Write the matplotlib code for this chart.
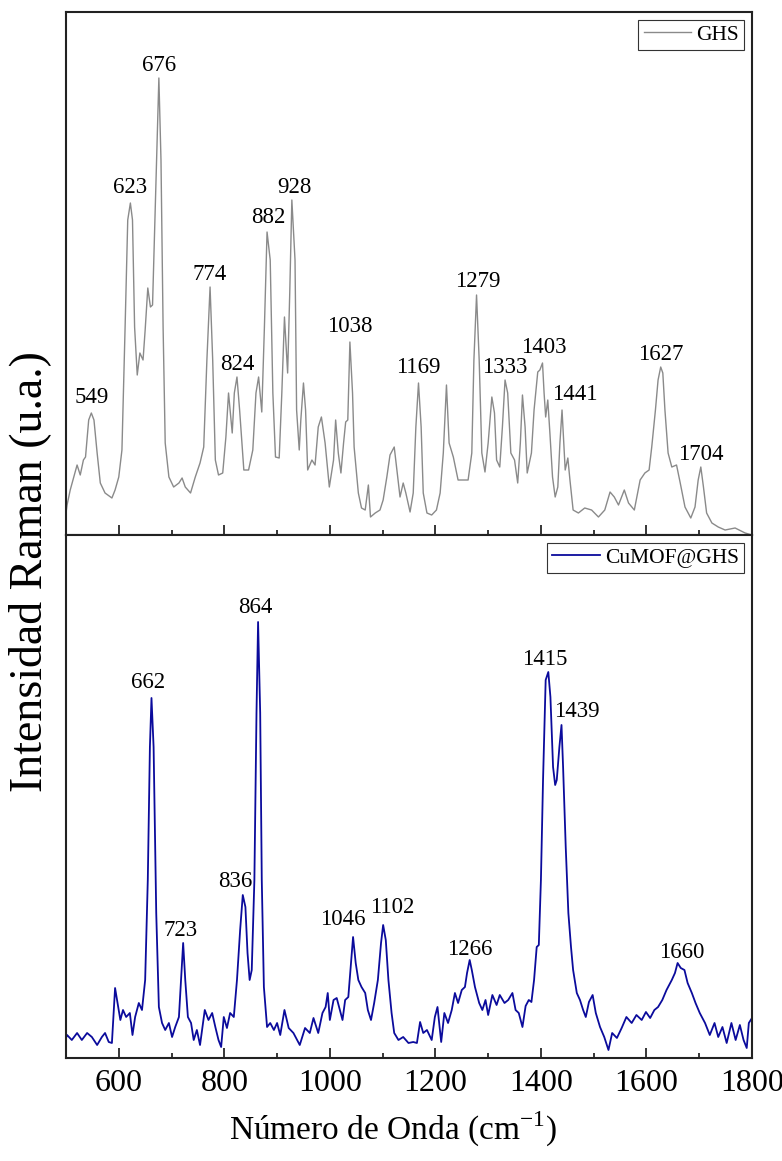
import numpy as np
import matplotlib
matplotlib.use("Agg")
import matplotlib.pyplot as plt
from matplotlib.ticker import MultipleLocator

plt.rcParams['font.family'] = ['Liberation Serif', 'DejaVu Serif']
plt.rcParams['mathtext.fontset'] = 'custom'
plt.rcParams['mathtext.rm'] = 'Liberation Serif'

# ---------------- data ----------------
ghs_wn = [500, 502, 508, 521, 527, 533, 537, 543, 548, 553, 559, 565, 574, 587, 593, 600, 606, 612, 617, 622,
          626, 630, 635, 640, 646, 650, 655, 660, 664, 669, 676, 680, 684, 688, 695, 704, 714, 720, 726, 736,
          745, 754, 761, 767, 773, 778, 783, 789, 797, 803, 808, 815, 819, 824, 829, 837, 846, 854, 860, 865,
          871, 876, 881, 887, 892, 897, 904, 909, 914, 920, 924, 928, 934, 937, 942, 945, 950, 954, 958, 966,
          972, 978, 984, 991, 999, 1007, 1011, 1016, 1021, 1026, 1030, 1034, 1038, 1043, 1046, 1054, 1060, 1067,
          1073, 1077, 1086, 1095, 1101, 1108, 1114, 1122, 1127, 1133, 1139, 1144, 1152, 1158, 1163, 1168, 1173,
          1177, 1184, 1193, 1202, 1209, 1215, 1221, 1226, 1234, 1243, 1253, 1262, 1269, 1273, 1278, 1283, 1288,
          1294, 1300, 1307, 1312, 1316, 1322, 1327, 1332, 1337, 1343, 1350, 1356, 1361, 1365, 1370, 1374, 1382,
          1387, 1394, 1398, 1403, 1406, 1409, 1413, 1417, 1422, 1427, 1432, 1436, 1440, 1446, 1451, 1455, 1461,
          1471, 1483, 1496, 1509, 1521, 1531, 1539, 1547, 1558, 1566, 1577, 1588, 1597, 1605, 1610, 1617, 1622,
          1627, 1631, 1635, 1641, 1648, 1657, 1664, 1673, 1684, 1692, 1698, 1703, 1708, 1714, 1724, 1736, 1749,
          1768, 1787, 1800]
ghs_int = [22, 30, 45, 70, 60, 75, 78, 115, 122, 115, 82, 52, 42, 37, 45, 58, 85, 208, 315, 332,
           315, 208, 160, 182, 175, 205, 247, 228, 230, 325, 457, 375, 208, 92, 58, 48, 52, 57, 48, 42,
           58, 72, 88, 175, 248, 175, 75, 60, 62, 98, 142, 102, 142, 158, 125, 65, 65, 85, 142, 158,
           123, 208, 303, 275, 142, 78, 77, 142, 218, 162, 242, 335, 275, 125, 85, 115, 152, 125, 65, 75,
           70, 108, 118, 92, 48, 75, 115, 82, 62, 92, 113, 115, 193, 142, 88, 42, 27, 25,
           50, 18, 22, 25, 35, 58, 80, 88, 65, 38, 52, 42, 23, 42, 108, 152, 108,
           42, 22, 20, 25, 42, 82, 150, 92, 78, 55, 55, 55, 82, 175, 240, 175, 82,
           63, 92, 138, 122, 75, 68, 108, 155, 142, 82, 75, 52, 92, 140, 108, 62, 82,
           125, 163, 165, 172, 142, 118, 135, 102, 58, 38, 48, 92, 125, 65, 77, 55, 25,
           22, 27, 25, 18, 25, 43, 38, 30, 45, 32, 25, 55, 62, 65, 88, 125, 155,
           168, 162, 125, 82, 68, 70, 52, 28, 17, 28, 55, 68, 48, 22, 12, 8, 5,
           7, 2, 0]

cu_wn = [500, 502, 511, 521, 530, 540, 549, 559, 568, 574, 581, 587, 593, 599, 603, 608, 614, 621, 626, 631,
         638, 644, 650, 655, 659, 662, 666, 671, 676, 682, 688, 695, 701, 707, 714, 718, 722, 726, 731, 737,
         742, 748, 754, 763, 770, 777, 783, 789, 794, 799, 805, 811, 818, 824, 830, 835, 840, 844, 848, 852,
         857, 861, 864, 868, 871, 875, 881, 887, 894, 900, 906, 914, 922, 931, 943, 953, 962, 969, 978, 986,
         992, 996, 1000, 1007, 1013, 1019, 1024, 1029, 1035, 1040, 1044, 1049, 1054, 1060, 1067, 1072, 1078,
         1084, 1091, 1097, 1101, 1106, 1111, 1117, 1122, 1130, 1139, 1149, 1158, 1165, 1171, 1177, 1184, 1193,
         1199, 1204, 1211, 1217, 1224, 1231, 1237, 1243, 1250, 1256, 1260, 1265, 1269, 1275, 1283, 1289, 1295,
         1300, 1308, 1316, 1322, 1331, 1338, 1346, 1352, 1358, 1365, 1371, 1377, 1382, 1387, 1392, 1396, 1400,
         1404, 1409, 1414, 1418, 1423, 1427, 1430, 1435, 1439, 1442, 1447, 1452, 1457, 1461, 1468, 1474, 1480,
         1485, 1491, 1498, 1504, 1512, 1520, 1528, 1535, 1544, 1553, 1562, 1572, 1581, 1591, 1599, 1607, 1615,
         1622, 1630, 1638, 1648, 1654, 1659, 1665, 1672, 1678, 1686, 1693, 1701, 1711, 1720, 1729, 1736, 1744,
         1752, 1761, 1769, 1777, 1784, 1790, 1794, 1800]
cu_int = [20, 23, 18, 25, 18, 25, 21, 13, 21, 25, 16, 15, 70, 51, 38, 48, 41, 45, 23, 41,
          55, 48, 78, 178, 311, 360, 311, 145, 51, 35, 28, 35, 21, 31, 41, 78, 115, 78, 41, 35,
          18, 28, 13, 48, 38, 45, 31, 18, 11, 41, 30, 45, 41, 78, 128, 163, 151, 105, 78, 88,
          178, 345, 436, 345, 178, 71, 31, 35, 28, 35, 23, 48, 30, 25, 13, 30, 25, 40, 25, 45,
          51, 65, 38, 58, 60, 48, 38, 58, 61, 95, 121, 95, 78, 71, 65, 48, 38,
          55, 78, 115, 133, 118, 78, 45, 25, 18, 21, 15, 16, 15, 36, 25, 28, 18,
          41, 51, 16, 45, 35, 48, 65, 55, 68, 71, 85, 98, 88, 71, 55, 48, 58,
          43, 63, 53, 63, 55, 58, 65, 48, 45, 31, 52, 58, 56, 78, 111, 113, 178,
          278, 378, 386, 361, 291, 273, 278, 311, 333, 291, 211, 145, 111, 88, 65, 58, 48,
          41, 56, 63, 45, 31, 21, 8, 25, 20, 30, 41, 35, 43, 38, 46, 40, 48,
          51, 58, 68, 78, 85, 95, 90, 88, 75, 65, 55, 45, 35, 23, 35, 21, 31,
          15, 35, 18, 33, 18, 10, 35, 40]

ghs_peaks = [549, 623, 676, 774, 824, 882, 928, 1038, 1169, 1279, 1333, 1403, 1441, 1627, 1704]
cu_peaks = [662, 723, 836, 864, 1046, 1102, 1266, 1415, 1439, 1660]

x_ticks = [600, 800, 1000, 1200, 1400, 1600, 1800]

# ---------------- layout / style ----------------
W, H = 782, 1161
fig = plt.figure(figsize=(W / 100, H / 100), dpi=100)

left, right = 66 / W, 752 / W
y_top, y_mid, y_bot = 1 - 12 / H, 1 - 535 / H, 1 - 1058 / H
ax1 = fig.add_axes([left, y_mid, right - left, y_top - y_mid])
ax2 = fig.add_axes([left, y_bot, right - left, y_mid - y_bot])

gray = '#8a8a8a'
blue = '#0b0b9c'

ax1.plot(ghs_wn, ghs_int, color=gray, lw=1.0, label='GHS')
ax2.plot(cu_wn, cu_int, color=blue, lw=1.3, label='CuMOF@GHS')

label_fs = 16.5
# label offsets in pixels (dx, dy) relative to the peak top
ghs_off = {549: (0, 10), 623: (0, 10), 676: (0, 7), 774: (0, 7), 824: (0, 7), 882: (1, 9), 928: (3, 7),
           1038: (0, 10), 1169: (0, 10), 1279: (1, 8), 1333: (0, 7), 1403: (1, 10), 1441: (13, 10),
           1627: (0, 7), 1704: (0, 7)}
cu_off = {662: (-3, 10), 723: (-3, 7), 836: (-8, 8), 864: (-3, 9), 1046: (-10, 12), 1102: (9, 12),
          1266: (0, 5), 1415: (-4, 7), 1439: (15, 8), 1660: (4, 5)}


def annotate(ax, wn, inten, peaks, offs):
    wn = np.asarray(wn, float)
    inten = np.asarray(inten, float)
    for p in peaks:
        m = (wn >= p - 6) & (wn <= p + 6)
        i = np.argmax(np.where(m, inten, -1))
        dx, dy = offs.get(p, (0, 8))
        ax.annotate(str(p), xy=(wn[i], inten[i]), xytext=(dx * 0.72, dy * 0.72),
                    textcoords='offset points', ha='center', va='baseline', fontsize=label_fs)


annotate(ax1, ghs_wn, ghs_int, ghs_peaks, ghs_off)
annotate(ax2, cu_wn, cu_int, cu_peaks, cu_off)

for ax in (ax1, ax2):
    ax.set_xlim(500, 1800)
    ax.set_ylim(0, 523)
    ax.set_yticks([])
    ax.xaxis.set_major_locator(MultipleLocator(200))
    ax.xaxis.set_minor_locator(MultipleLocator(100))
    ax.tick_params(axis='x', which='major', direction='in', length=7.5, width=1.1, top=False)
    ax.tick_params(axis='x', which='minor', direction='in', length=3.5, width=1.1, top=False)
    for s in ax.spines.values():
        s.set_linewidth(1.5)
        s.set_color('#222222')
    leg = ax.legend(loc='upper right', fontsize=15.5, frameon=True, fancybox=False,
                    handlelength=2.2, handletextpad=0.25, borderpad=0.25,
                    borderaxespad=0.35, framealpha=1)
    leg.get_frame().set_edgecolor('#333333')
    leg.get_frame().set_linewidth(0.8)

ax1.tick_params(axis='x', labelbottom=False)
ax2.set_xticks(x_ticks)
ax2.tick_params(axis='x', labelsize=23, pad=8)

fig.text(393 / W, 1 - 1140 / H, r'Número de Onda (cm$^{\mathregular{-1}}$)', ha='center',
         va='baseline', fontsize=24)
fig.text(30 / W, 1 - 572 / H, 'Intensidad Raman (u.a.)', rotation=90, ha='center',
         va='center', fontsize=33)

fig.savefig('out.png', dpi=100)
